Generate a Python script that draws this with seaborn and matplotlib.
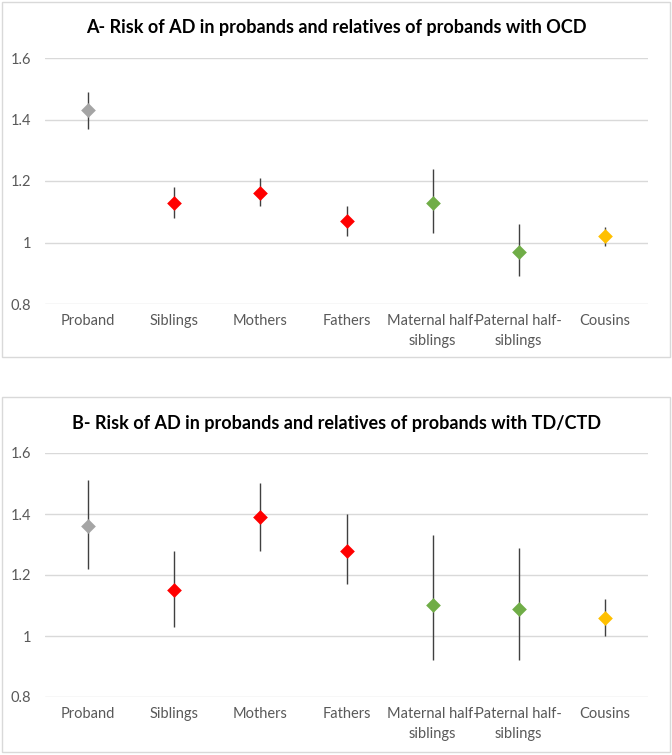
import pandas as pd
import matplotlib.pyplot as plt
import seaborn as sns
from matplotlib.patches import Rectangle

categories = ["Proband", "Siblings", "Mothers", "Fathers",
              "Maternal half-\nsiblings", "Paternal half-\nsiblings", "Cousins"]
groups = ["proband", "first", "first", "first", "second", "second", "third"]
palette = {"proband": "#A5A5A5", "first": "#FF0000", "second": "#70AD47", "third": "#FFC000"}

# panel A - OCD
ocd_est = [1.43, 1.13, 1.16, 1.07, 1.13, 0.97, 1.02]
ocd_low = [1.37, 1.08, 1.12, 1.02, 1.03, 0.89, 0.99]
ocd_high = [1.49, 1.18, 1.21, 1.12, 1.24, 1.06, 1.05]

# panel B - TD/CTD
td_est = [1.36, 1.15, 1.39, 1.28, 1.10, 1.09, 1.06]
td_low = [1.22, 1.03, 1.28, 1.17, 0.92, 0.92, 1.00]
td_high = [1.51, 1.28, 1.50, 1.40, 1.33, 1.29, 1.12]

titles = ["A- Risk of AD in probands and relatives of probands with OCD",
          "B- Risk of AD in probands and relatives of probands with TD/CTD"]
yticks = [0.8, 1.0, 1.2, 1.4, 1.6]
ytick_labels = ["0.8", "1", "1.2", "1.4", "1.6"]

sns.set_theme(style="white")
plt.rcParams['font.family'] = ['Lato', 'DejaVu Sans']

fig = plt.figure(figsize=(6.72, 7.55), dpi=100)

# panel frames (pixel boxes converted to figure fractions)
W, H = 672, 755
for (x0, y0, x1, y1) in [(2, 2, 670, 357), (2, 397, 670, 752)]:
    fig.add_artist(Rectangle((x0 / W, 1 - y1 / H), (x1 - x0) / W, (y1 - y0) / H,
                             transform=fig.transFigure, fill=False,
                             edgecolor="#D9D9D9", linewidth=1))

axes_pos = [[45 / W, 1 - 304 / H, 603 / W, 246 / H],
            [45 / W, 1 - 697 / H, 603 / W, 244 / H]]
title_y = [1 - 28 / H, 1 - 423 / H]
data = [(ocd_est, ocd_low, ocd_high), (td_est, td_low, td_high)]

for i in range(2):
    est, low, high = data[i]
    df = pd.DataFrame({"cat": categories, "est": est, "low": low, "high": high, "grp": groups})
    ax = fig.add_axes(axes_pos[i])
    ax.vlines(range(len(df)), df["low"], df["high"], color="#404040", linewidth=1, zorder=2)
    sns.stripplot(data=df, x="cat", y="est", hue="grp", palette=palette, jitter=False,
                  marker="D", size=7.5, linewidth=0, legend=False, ax=ax, zorder=3)
    ax.set_xlim(-0.5, 6.5)
    ax.set_ylim(0.8, 1.6)
    ax.set_yticks(yticks)
    ax.set_yticklabels(ytick_labels)
    ax.set_xlabel("")
    ax.set_ylabel("")
    ax.grid(axis="y", color="#D9D9D9", linewidth=1)
    ax.set_axisbelow(True)
    for s in ax.spines.values():
        s.set_visible(False)
    ax.tick_params(axis="both", length=0, labelsize=10.5, colors="#595959")
    ax.tick_params(axis="x", pad=7)
    ax.tick_params(axis="y", pad=10)
    for lbl in ax.get_xticklabels():
        lbl.set_linespacing(1.55)
    fig.text(0.5, title_y[i], titles[i], ha="center", va="center",
             fontsize=13, fontweight="bold", color="#000000")

plt.savefig("out.png", dpi=100)
